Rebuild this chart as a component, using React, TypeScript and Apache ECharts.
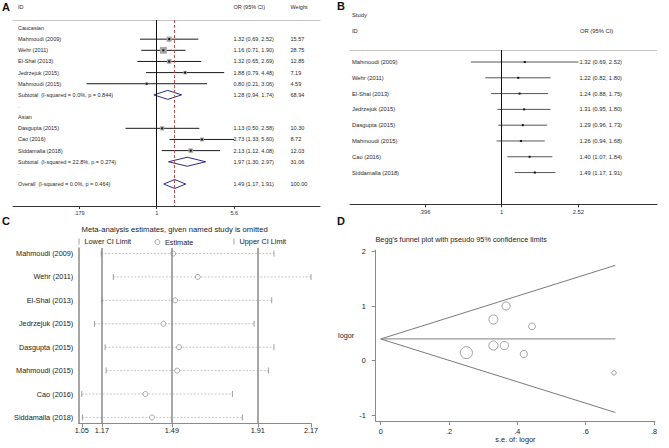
import React, { useEffect, useRef } from 'react';
import * as echarts from 'echarts';

// ---------- Panel A: subgroup forest plot ----------
const aRowLabels = [
  'Caucasian', 'Mahmoudi (2009)', 'Wehr (2011)', 'El-Shal (2013)', 'Jedrzejuk (2015)', 'Mahmoudi (2015)',
  'Subtotal  (I-squared = 0.0%, p = 0.844)', '.', 'Asian', 'Dasgupta (2015)', 'Cao (2016)', 'Siddamalla (2018)',
  'Subtotal  (I-squared = 22.8%, p = 0.274)', '.', 'Overall  (I-squared = 0.0%, p = 0.464)',
];
const aRowKind = ['head', 'study', 'study', 'study', 'study', 'study', 'pooled', 'blank', 'head', 'study', 'study', 'study', 'pooled', 'blank', 'pooled'];
const aOR = [null, 1.32, 1.16, 1.32, 1.88, 0.80, 1.28, null, null, 1.13, 2.73, 2.13, 1.97, null, 1.49];
const aLower = [null, 0.69, 0.71, 0.65, 0.79, 0.21, 0.94, null, null, 0.50, 1.33, 1.12, 1.30, null, 1.17];
const aUpper = [null, 2.52, 1.90, 2.69, 4.48, 3.06, 1.74, null, null, 2.58, 5.60, 4.08, 2.97, null, 1.91];
const aWeight = [null, 15.57, 28.75, 12.85, 7.19, 4.59, 68.94, null, null, 10.30, 8.72, 12.03, 31.06, null, 100.00];
const aOverall = 1.49;
const aTicks = [0.179, 1, 5.6];
const aTickLabels = ['.179', '1', '5.6'];

// ---------- Panel B: cumulative forest plot ----------
const bStudies = ['Mahmoudi (2009)', 'Wehr (2011)', 'El-Shal (2013)', 'Jedrzejuk (2015)', 'Dasgupta (2015)', 'Mahmoudi (2015)', 'Cao (2016)', 'Siddamalla (2018)'];
const bOR = [1.32, 1.22, 1.24, 1.31, 1.29, 1.26, 1.40, 1.49];
const bLower = [0.69, 0.82, 0.88, 0.95, 0.96, 0.94, 1.07, 1.17];
const bUpper = [2.52, 1.80, 1.75, 1.80, 1.73, 1.68, 1.84, 1.91];
const bTicks = [0.396, 1, 2.52];
const bTickLabels = ['.396', '1', '2.52'];

// ---------- Panel C: sensitivity analysis ----------
const cStudies = ['Mahmoudi (2009)', 'Wehr (2011)', 'El-Shal (2013)', 'Jedrzejuk (2015)', 'Dasgupta (2015)', 'Mahmoudi (2015)', 'Cao (2016)', 'Siddamalla (2018)'];
const cLower = [1.145, 1.204, 1.148, 1.112, 1.164, 1.169, 1.05, 1.053];
const cEstimate = [1.497, 1.617, 1.506, 1.449, 1.525, 1.516, 1.361, 1.393];
const cUpper = [1.989, 2.17, 1.978, 1.892, 1.989, 1.962, 1.786, 1.835];
const cRefLines = [1.148, 1.49, 1.91];
const cTicks = [1.05, 1.148, 1.49, 1.91, 2.17];
const cTickLabels = ['1.05', '1.17', '1.49', '1.91', '2.17'];

// ---------- Panel D: Begg's funnel plot ----------
const dSe = [0.330, 0.251, 0.362, 0.443, 0.419, 0.683, 0.367, 0.330];
const dLogOR = [0.278, 0.148, 0.278, 0.631, 0.122, -0.223, 1.004, 0.756];
const dFunnelSe = [0, 0.687];
const dFunnelUpper = [0.399, 1.75];
const dFunnelMid = [0.399, 0.399];
const dFunnelLower = [0.399, -0.95];
const dXTicks = [0, 0.2, 0.4, 0.6, 0.8];
const dXTickLabels = ['0', '.2', '.4', '.6', '.8'];
const dYTicks = [-1, 0, 1, 2];
const dYTickLabels = ['-1', '0', '1', '2'];

const FONT = "'Liberation Sans', Arial, Helvetica, sans-serif";
const LN = Math.log;

const labelFor = (ticks: number[], labels: string[], tf: (v: number) => number) => (v: number) => {
  for (let i = 0; i < ticks.length; i++) if (Math.abs(tf(ticks[i]) - v) < 1e-6) return labels[i];
  return '';
};

const fmtCI = (o: number, l: number, u: number) => `${o.toFixed(2)} (${l.toFixed(2)}, ${u.toFixed(2)})`;

export default function App() {
  const ref = useRef<HTMLDivElement>(null);
  useEffect(() => {
    if (!ref.current) return;
    const chart = echarts.init(ref.current, undefined, { renderer: 'svg' });

    const txt = (x: number, y: number, text: string, size: number, extra: any = {}) => ({
      type: 'text', x, y, silent: true,
      style: { text, fontSize: size, fill: '#2a2a2a', fontFamily: FONT, verticalAlign: 'middle', ...extra },
    });

    const aData = aRowKind.map((k, i) => (k === 'study' || k === 'pooled' ? [LN(aOR[i] as number), i] : null)).filter(Boolean);
    const bData = bOR.map((o, i) => [LN(o), i]);

    const option: any = {
      animation: false,
      backgroundColor: '#fff',
      textStyle: { fontFamily: FONT },
      title: [
        { text: 'Meta-analysis estimates, given named study is omitted', left: 81.5, top: 225.5, padding: 0,
          textStyle: { fontSize: 7.7, fontWeight: 'normal', color: '#222', fontFamily: FONT } },
        { text: "Begg's funnel plot with pseudo 95% confidence limits", left: 375.5, top: 236, padding: 0,
          textStyle: { fontSize: 7.3, fontWeight: 'normal', color: '#222', fontFamily: FONT } },
      ],
      legend: [
        { data: ['Lower CI Limit'], left: 78.5, top: 238, padding: 0, icon: 'rect', itemWidth: 1, itemHeight: 6, selectedMode: false,
          textStyle: { fontSize: 7.3, color: '#222', fontFamily: FONT } },
        { data: ['Estimate'], left: 154.5, top: 238.5, padding: 0, icon: 'circle', itemWidth: 5, itemHeight: 5, selectedMode: false,
          itemStyle: { color: '#fff', borderColor: '#7a7a7a', borderWidth: 0.8 },
          textStyle: { fontSize: 7.3, color: '#222', fontFamily: FONT } },
        { data: ['Upper CI Limit'], left: 233.5, top: 238, padding: 0, icon: 'rect', itemWidth: 1, itemHeight: 6, selectedMode: false,
          textStyle: { fontSize: 7.3, color: '#222', fontFamily: FONT } },
      ],
      grid: [
        { left: 13, top: 20, width: 307, height: 186 },
        { left: 350, top: 50, width: 307, height: 154.3 },
        { left: 78.3, top: 248, width: 232.7, height: 175.3 },
        { left: 375.7, top: 250, width: 279.3, height: 171 },
      ],
      xAxis: [
        { gridIndex: 0, type: 'value', min: -3.193, max: 3.629, position: 'bottom',
          axisLine: { onZero: false, lineStyle: { color: '#333', width: 1 } },
          axisTick: { customValues: aTicks.map(LN), length: 3, lineStyle: { color: '#333' } },
          axisLabel: { customValues: aTicks.map(LN), formatter: labelFor(aTicks, aTickLabels, LN), fontSize: 5.5, color: '#333', margin: 4 },
          splitLine: { show: false } },
        { gridIndex: 0, type: 'value', min: -3.193, max: 3.629, position: 'top',
          axisLine: { onZero: false, lineStyle: { color: '#c4c4c4', width: 1 } }, axisTick: { show: false }, axisLabel: { show: false }, splitLine: { show: false } },
        { gridIndex: 1, type: 'value', min: -1.828, max: 1.871, position: 'bottom',
          axisLine: { onZero: false, lineStyle: { color: '#333', width: 1 } },
          axisTick: { customValues: bTicks.map(LN), length: 3, lineStyle: { color: '#333' } },
          axisLabel: { customValues: bTicks.map(LN), formatter: labelFor(bTicks, bTickLabels, LN), fontSize: 5.8, color: '#333', margin: 5 },
          splitLine: { show: false } },
        { gridIndex: 1, type: 'value', min: -1.828, max: 1.871, position: 'top',
          axisLine: { onZero: false, lineStyle: { color: '#c4c4c4', width: 1 } }, axisTick: { show: false }, axisLabel: { show: false }, splitLine: { show: false } },
        { gridIndex: 2, type: 'value', min: 1.033, max: 2.17, position: 'bottom',
          axisLine: { onZero: false, lineStyle: { color: '#8a8a8a', width: 1 } },
          axisTick: { customValues: cTicks, length: 4, lineStyle: { color: '#8a8a8a' } },
          axisLabel: { customValues: cTicks, formatter: labelFor(cTicks, cTickLabels, (v) => v), fontSize: 7.3, color: '#222', margin: 4 },
          splitLine: { show: false } },
        { gridIndex: 3, type: 'value', min: -0.0146, max: 0.803, position: 'bottom',
          name: 's.e. of: logor', nameLocation: 'middle', nameGap: 15, nameTextStyle: { fontSize: 7.3, color: '#222', fontFamily: FONT },
          axisLine: { onZero: false, lineStyle: { color: '#8a8a8a', width: 1 } },
          axisTick: { customValues: dXTicks, length: 4, lineStyle: { color: '#8a8a8a' } },
          axisLabel: { customValues: dXTicks, formatter: labelFor(dXTicks, dXTickLabels, (v) => v), fontSize: 7.3, color: '#222', margin: 7 },
          splitLine: { show: false } },
      ],
      yAxis: [
        { gridIndex: 0, type: 'value', inverse: true, min: -0.72, max: 15.97,
          axisLine: { show: false, onZero: false }, axisTick: { show: false }, splitLine: { show: false },
          axisLabel: { inside: true, margin: 5, customValues: aRowLabels.map((_, i) => i), formatter: (v: number) => aRowLabels[Math.round(v)] || '',
            fontSize: 5.5, color: '#2a2a2a', fontFamily: FONT } },
        { gridIndex: 1, type: 'value', inverse: true, min: -0.76, max: 9.01,
          axisLine: { show: false, onZero: false }, axisTick: { show: false }, splitLine: { show: false },
          axisLabel: { inside: true, margin: 2, customValues: bStudies.map((_, i) => i), formatter: (v: number) => bStudies[Math.round(v)] || '',
            fontSize: 5.8, color: '#2a2a2a', fontFamily: FONT } },
        { gridIndex: 2, type: 'value', inverse: true, min: -0.235, max: 7.25,
          axisLine: { onZero: false, lineStyle: { color: '#8a8a8a', width: 1.5 } }, axisTick: { show: false }, splitLine: { show: false },
          axisLabel: { margin: 5, customValues: cStudies.map((_, i) => i), formatter: (v: number) => cStudies[Math.round(v)] || '',
            fontSize: 7.3, color: '#222', fontFamily: FONT } },
        { gridIndex: 3, type: 'value', min: -1.106, max: 2.031,
          name: 'logor', nameLocation: 'middle', nameRotate: 0, nameGap: 18, nameTextStyle: { fontSize: 7.3, color: '#222', fontFamily: FONT },
          axisLine: { onZero: false, lineStyle: { color: '#8a8a8a', width: 1 } },
          axisTick: { customValues: dYTicks, length: 4, lineStyle: { color: '#8a8a8a' } },
          axisLabel: { customValues: dYTicks, formatter: labelFor(dYTicks, dYTickLabels, (v) => v), fontSize: 7.3, color: '#222', margin: 10 },
          splitLine: { show: false } },
      ],
      graphic: [
        txt(2, 7, 'A', 11, { fontWeight: 'bold', fill: '#111' }),
        txt(18, 7, 'ID', 5.5),
        txt(233.5, 7, 'OR (95% CI)', 5.5),
        txt(290.5, 7, 'Weight', 5.5),
        txt(337, 6, 'B', 11, { fontWeight: 'bold', fill: '#111' }),
        txt(352, 15, 'Study', 5.8),
        txt(352, 30.5, 'ID', 5.8),
        txt(580, 30.5, 'OR (95% CI)', 5.8),
        txt(2, 221, 'C', 11, { fontWeight: 'bold', fill: '#111' }),
        txt(337, 221, 'D', 11, { fontWeight: 'bold', fill: '#111' }),
      ],
      series: [
        // A: reference lines
        { type: 'line', xAxisIndex: 0, yAxisIndex: 0, data: [], silent: true,
          markLine: { silent: true, symbol: 'none', label: { show: false },
            data: [
              { xAxis: 0, lineStyle: { color: '#111', width: 1, type: 'solid' } },
              { xAxis: LN(aOverall), lineStyle: { color: '#c0504d', width: 1, type: [3, 2] } },
            ] } },
        // A: studies and pooled diamonds
        { type: 'custom', xAxisIndex: 0, yAxisIndex: 0, data: aData, silent: true,
          renderItem: (params: any, api: any) => {
            const i = api.value(1);
            const kind = aRowKind[i];
            const cs = params.coordSys;
            const y = api.coord([0, i])[1];
            const xl = api.coord([LN(aLower[i] as number), i])[0];
            const xu = api.coord([LN(aUpper[i] as number), i])[0];
            const xe = api.coord([LN(aOR[i] as number), i])[0];
            const children: any[] = [];
            if (kind === 'study') {
              const s = 1.3 * Math.sqrt(aWeight[i] as number);
              children.push({ type: 'line', shape: { x1: xl, y1: y, x2: xu, y2: y }, style: { stroke: '#1a1a1a', lineWidth: 1 } });
              children.push({ type: 'rect', shape: { x: xe - s / 2, y: y - s / 2, width: s, height: s }, style: { fill: '#a8a8a8' } });
              children.push({ type: 'rect', shape: { x: xe - 1, y: y - 1, width: 2, height: 2 }, style: { fill: '#111' } });
            } else {
              const h = 4.5;
              children.push({ type: 'polygon', shape: { points: [[xl, y], [xe, y - h], [xu, y], [xe, y + h]] },
                style: { fill: 'none', stroke: '#2b2b86', lineWidth: 1 } });
            }
            children.push({ type: 'text', style: { x: cs.x + 220.5, y, text: fmtCI(aOR[i] as number, aLower[i] as number, aUpper[i] as number),
              fontSize: 5.5, fill: '#2a2a2a', fontFamily: FONT, verticalAlign: 'middle' } });
            children.push({ type: 'text', style: { x: cs.x + 277.5, y, text: (aWeight[i] as number).toFixed(2),
              fontSize: 5.5, fill: '#2a2a2a', fontFamily: FONT, verticalAlign: 'middle' } });
            return { type: 'group', children };
          } },
        // B: reference line
        { type: 'line', xAxisIndex: 2, yAxisIndex: 1, data: [], silent: true,
          markLine: { silent: true, symbol: 'none', label: { show: false },
            data: [{ xAxis: 0, lineStyle: { color: '#111', width: 1, type: 'solid' } }] } },
        // B: cumulative estimates
        { type: 'custom', xAxisIndex: 2, yAxisIndex: 1, data: bData, silent: true,
          renderItem: (params: any, api: any) => {
            const i = api.value(1);
            const cs = params.coordSys;
            const y = api.coord([0, i])[1];
            const xl = api.coord([LN(bLower[i]), i])[0];
            const xu = api.coord([LN(bUpper[i]), i])[0];
            const xe = api.coord([LN(bOR[i]), i])[0];
            return { type: 'group', children: [
              { type: 'line', shape: { x1: xl, y1: y, x2: xu, y2: y }, style: { stroke: '#555', lineWidth: 1 } },
              { type: 'rect', shape: { x: xe - 1, y: y - 1, width: 2, height: 2 }, style: { fill: '#111' } },
              { type: 'text', style: { x: cs.x + 229.5, y, text: fmtCI(bOR[i], bLower[i], bUpper[i]),
                fontSize: 5.8, fill: '#2a2a2a', fontFamily: FONT, verticalAlign: 'middle' } },
            ] };
          } },
        // C: dashed range lines
        { type: 'custom', xAxisIndex: 4, yAxisIndex: 2, data: cEstimate.map((e, i) => [e, i]), silent: true,
          renderItem: (params: any, api: any) => {
            const i = api.value(1);
            const p1 = api.coord([cLower[i], i]);
            const p2 = api.coord([cUpper[i], i]);
            return { type: 'line', shape: { x1: p1[0], y1: p1[1], x2: p2[0], y2: p2[1] },
              style: { stroke: '#b8b8b8', lineWidth: 0.8, lineDash: [2, 1.5] } };
          } },
        { name: 'Lower CI Limit', type: 'scatter', xAxisIndex: 4, yAxisIndex: 2, symbol: 'rect', symbolSize: [1, 6], silent: true,
          itemStyle: { color: '#8a8a8a' }, data: cLower.map((v, i) => [v, i]) },
        { name: 'Estimate', type: 'scatter', xAxisIndex: 4, yAxisIndex: 2, symbol: 'circle', symbolSize: 5, silent: true,
          itemStyle: { color: '#fff', borderColor: '#7a7a7a', borderWidth: 0.8 }, data: cEstimate.map((v, i) => [v, i]),
          markLine: { silent: true, symbol: 'none', label: { show: false }, lineStyle: { color: '#8a8a8a', width: 1.5, type: 'solid' },
            data: cRefLines.map((v) => ({ xAxis: v })) } },
        { name: 'Upper CI Limit', type: 'scatter', xAxisIndex: 4, yAxisIndex: 2, symbol: 'rect', symbolSize: [1, 6], silent: true,
          itemStyle: { color: '#8a8a8a' }, data: cUpper.map((v, i) => [v, i]) },
        // D: funnel
        { type: 'line', xAxisIndex: 5, yAxisIndex: 3, symbol: 'none', silent: true, lineStyle: { color: '#7a7a7a', width: 1 },
          data: dFunnelSe.map((s, i) => [s, dFunnelUpper[i]]) },
        { type: 'line', xAxisIndex: 5, yAxisIndex: 3, symbol: 'none', silent: true, lineStyle: { color: '#9a9a9a', width: 1.3 },
          data: dFunnelSe.map((s, i) => [s, dFunnelMid[i]]) },
        { type: 'line', xAxisIndex: 5, yAxisIndex: 3, symbol: 'none', silent: true, lineStyle: { color: '#7a7a7a', width: 1 },
          data: dFunnelSe.map((s, i) => [s, dFunnelLower[i]]) },
        { type: 'scatter', xAxisIndex: 5, yAxisIndex: 3, symbol: 'circle', silent: true,
          symbolSize: (v: number[]) => 3 / v[0],
          itemStyle: { color: 'rgba(255,255,255,0)', borderColor: '#7a7a7a', borderWidth: 0.9 },
          data: dSe.map((s, i) => [s, dLogOR[i]]) },
      ],
    };
    chart.setOption(option);
    return () => chart.dispose();
  }, []);
  return (
    <div
      ref={ref}
      style={{ position: 'fixed', left: 0, top: 0, width: 669, height: 448, background: '#fff' }}
    />
  );
}
